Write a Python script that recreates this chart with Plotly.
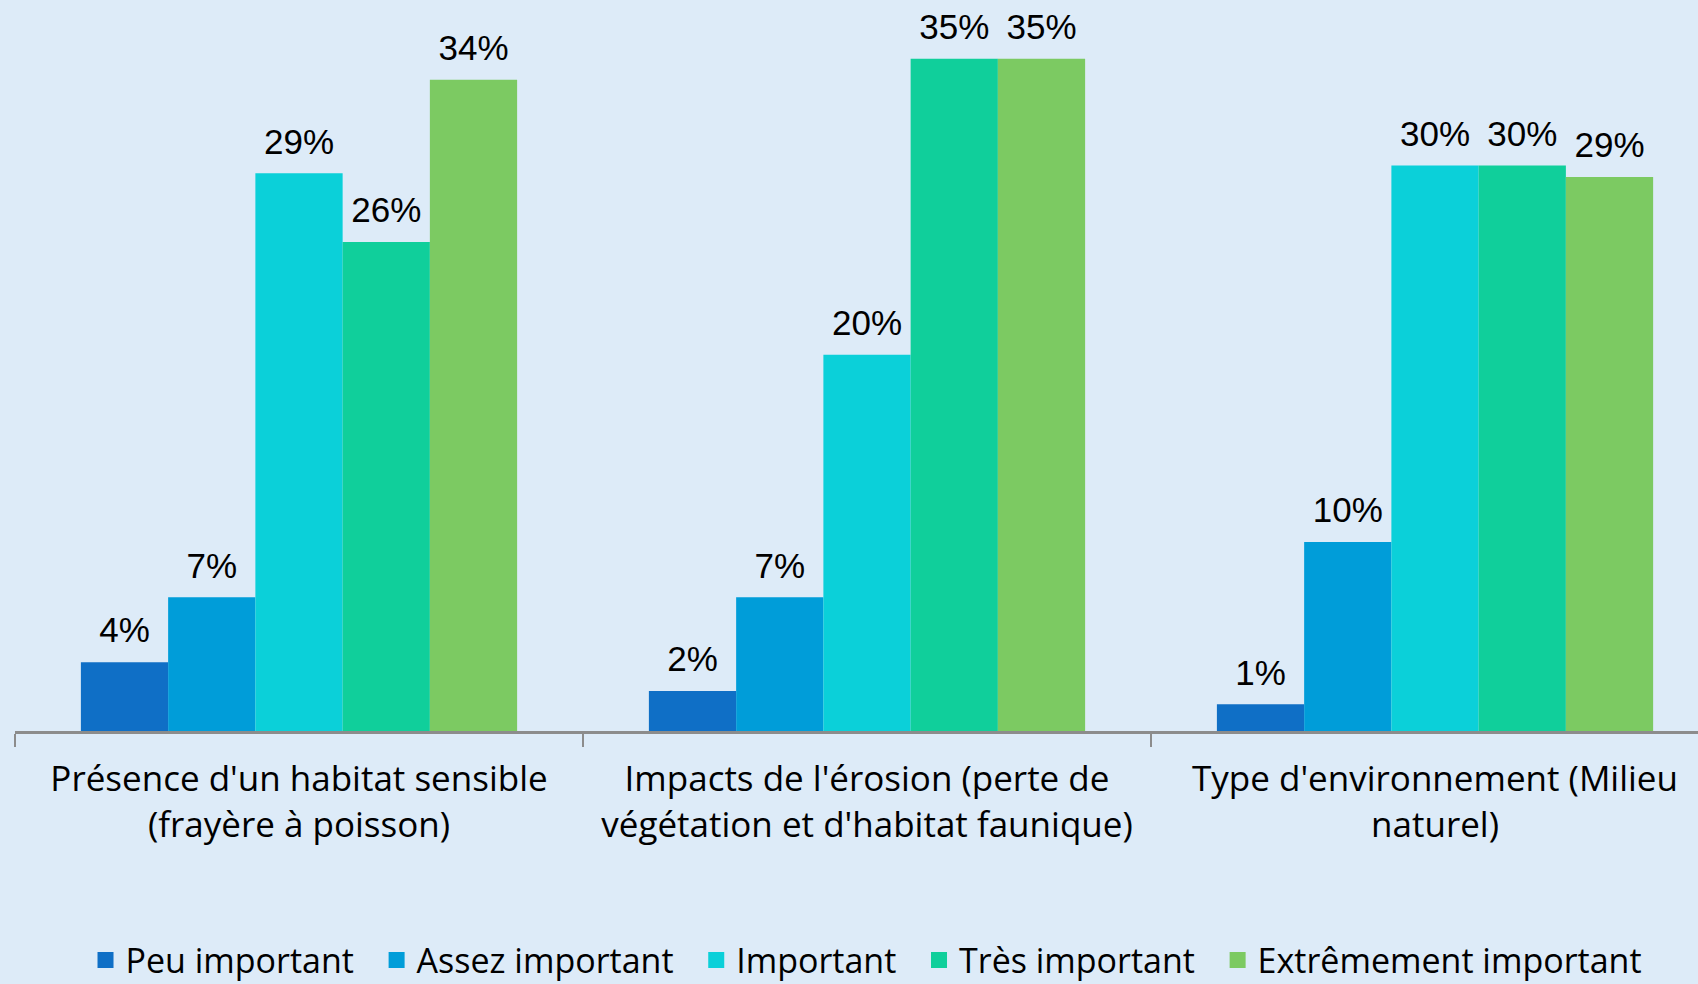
import plotly.graph_objects as go

categories = [
    "Présence d'un habitat sensible<br>(frayère à poisson)",
    "Impacts de l'érosion (perte de<br>végétation et d'habitat faunique)",
    "Type d'environnement (Milieu<br>naturel)",
]
series_names = ["Peu important", "Assez important", "Important", "Très important", "Extrêmement important"]
peu_important = [3.6, 2.1, 1.4]
assez_important = [7.0, 7.0, 9.9]
important = [29.2, 19.7, 29.6]
tres_important = [25.6, 35.2, 29.6]
extremement_important = [34.1, 35.2, 29.0]
series_values = [peu_important, assez_important, important, tres_important, extremement_important]
colors = ["#0F6FC6", "#009DD9", "#0BD0D9", "#10CF9B", "#7CCA62"]

BG = "#DDEBF8"
GAP = 0.232
fig = go.Figure()
for name, vals, col in zip(series_names, series_values, colors):
    fig.add_trace(go.Bar(
        x=categories, y=vals, name=name, showlegend=False,
        marker=dict(color=col, line=dict(width=0)),
        hoverinfo="skip", offsetgroup=name,
    ))
# value labels, grouped like the bars
for name, vals in zip(series_names, series_values):
    fig.add_trace(go.Scatter(
        x=categories, y=vals, mode="markers+text", showlegend=False,
        marker=dict(size=16, color="rgba(0,0,0,0)"),
        text=[f"{v:.0f}%" for v in vals], textposition="top center",
        textfont=dict(family="Liberation Sans", size=35, color="#000000"),
        cliponaxis=False, hoverinfo="skip", offsetgroup=name,
    ))
# legend entries (square swatches)
for name, col in zip(series_names, colors):
    fig.add_trace(go.Scatter(
        x=[None], y=[None], mode="markers", name=name + "\u00a0\u00a0",
        marker=dict(symbol="square", size=16, color=col),
        hoverinfo="skip", offsetgroup=name,
    ))

fig.update_layout(
    width=1698, height=984,
    paper_bgcolor=BG, plot_bgcolor=BG,
    margin=dict(l=15, r=0, t=0, b=253),
    barmode="group", bargap=GAP, bargroupgap=0,
    scattermode="group", scattergap=GAP,
    showlegend=True,
    legend=dict(
        orientation="h", x=0.511, xanchor="center", y=0.024, yanchor="middle",
        yref="container", font=dict(family="Open Sans", size=34, color="#000000"),
        bgcolor="rgba(0,0,0,0)", itemclick=False, traceorder="normal",
        itemsizing="trace",
    ),
    font=dict(family="Open Sans", color="#000000"),
)
fig.update_xaxes(
    range=[-0.5, 2.463], showline=True, linecolor="#8C8C8C", linewidth=3,
    ticks="outside", tickson="boundaries", ticklen=13, tickwidth=2, tickcolor="#8C8C8C",
    tickfont=dict(family="Open Sans", size=35, color="#000000"),
    ticklabelstandoff=15,
    showgrid=False, zeroline=False,
)
fig.update_yaxes(range=[0, 38.27], visible=False, showgrid=False, zeroline=False)

fig.write_html("out.html", config={"displayModeBar": False},
               post_script="document.body.style.margin='0px';")
